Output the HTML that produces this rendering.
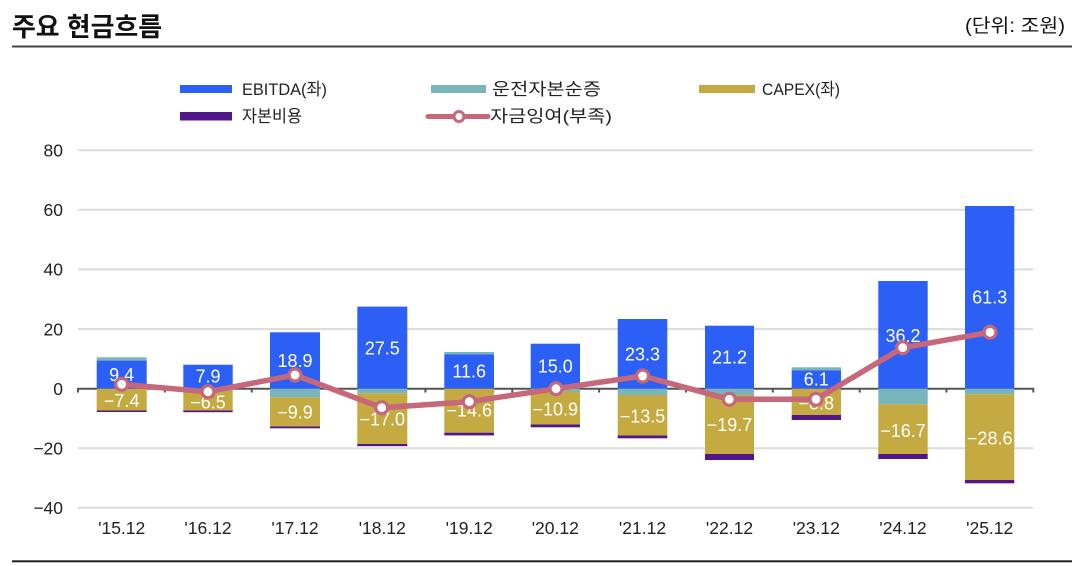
<!DOCTYPE html>
<html>
<head>
<meta charset="utf-8">
<style>
  html,body{margin:0;padding:0;background:#fff;}
  body{width:1078px;height:566px;overflow:hidden;}
  svg{display:block;}
  text{font-family:"Liberation Sans","Noto Sans CJK KR",sans-serif;}
  .k{font-family:"Liberation Sans","Noto Sans CJK KR",sans-serif;}
</style>
</head>
<body>
<svg width="1078" height="566" viewBox="0 0 1078 566" xmlns="http://www.w3.org/2000/svg">
  <!-- Title -->
  <text x="12" y="36" font-size="26" font-weight="bold" fill="#111" textLength="150" lengthAdjust="spacingAndGlyphs" class="k">주요 현금흐름</text>
  <text x="1065" y="32" font-size="19" fill="#111" text-anchor="end" textLength="100" lengthAdjust="spacingAndGlyphs" class="k">(단위: 조원)</text>
  <rect x="12" y="45.5" width="1060" height="2" fill="#444"/>

  <!-- Legend -->
  <rect x="180" y="85" width="52" height="8" fill="#2b5ff5"/>
  <text x="242" y="95" font-size="17" fill="#222" textLength="85" lengthAdjust="spacingAndGlyphs">EBITDA(좌)</text>
  <rect x="431" y="85" width="55" height="8" fill="#79b5ba"/>
  <text x="492" y="95" font-size="17" fill="#222" textLength="109" lengthAdjust="spacingAndGlyphs">운전자본순증</text>
  <rect x="699" y="85" width="56" height="8" fill="#c4aa41"/>
  <text x="762" y="95" font-size="17" fill="#222" textLength="78" lengthAdjust="spacingAndGlyphs">CAPEX(좌)</text>
  <rect x="180" y="112" width="52" height="8.5" fill="#52168a"/>
  <text x="242" y="122" font-size="17" fill="#222" textLength="60" lengthAdjust="spacingAndGlyphs">자본비용</text>
  <line x1="428" y1="116.5" x2="488" y2="116.5" stroke="#c6677a" stroke-width="5" stroke-linecap="round"/>
  <circle cx="459" cy="116.5" r="5" fill="#fff" stroke="#c6677a" stroke-width="3"/>
  <text x="490" y="122" font-size="17" fill="#222" textLength="122" lengthAdjust="spacingAndGlyphs">자금잉여(부족)</text>

  <!-- Gridlines -->
  <g stroke="#dcdcd8" stroke-width="2">
    <line x1="78" y1="150.2" x2="1033" y2="150.2"/>
    <line x1="78" y1="209.8" x2="1033" y2="209.8"/>
    <line x1="78" y1="269.4" x2="1033" y2="269.4"/>
    <line x1="78" y1="329.1" x2="1033" y2="329.1"/>
    <line x1="78" y1="448.2" x2="1033" y2="448.2"/>
    <line x1="78" y1="507.8" x2="1033" y2="507.8"/>
  </g>

  <!-- Y labels -->
  <g font-size="17.5" fill="#222" text-anchor="end">
    <text x="63" y="156.5">80</text>
    <text x="63" y="216">60</text>
    <text x="63" y="275.6">40</text>
    <text x="63" y="335.3">20</text>
    <text x="63" y="395">0</text>
    <text x="63" y="454.4">−20</text>
    <text x="63" y="514">−40</text>
  </g>

  <!-- Zero axis + ticks -->
  <g stroke="#555" stroke-width="2">
    <line x1="78" y1="388.7" x2="1034" y2="388.7"/>
    <line x1="78" y1="388" x2="78" y2="392.5"/>
    <line x1="164.9" y1="388" x2="164.9" y2="392.5"/>
    <line x1="251.7" y1="388" x2="251.7" y2="392.5"/>
    <line x1="338.6" y1="388" x2="338.6" y2="392.5"/>
    <line x1="425.4" y1="388" x2="425.4" y2="392.5"/>
    <line x1="512.3" y1="388" x2="512.3" y2="392.5"/>
    <line x1="599.1" y1="388" x2="599.1" y2="392.5"/>
    <line x1="686" y1="388" x2="686" y2="392.5"/>
    <line x1="772.8" y1="388" x2="772.8" y2="392.5"/>
    <line x1="859.7" y1="388" x2="859.7" y2="392.5"/>
    <line x1="946.5" y1="388" x2="946.5" y2="392.5"/>
    <line x1="1033.3" y1="388" x2="1033.3" y2="392.5"/>
  </g>

  <!-- Bars -->
  <g>
    <!-- 15.12 -->
    <rect x="96.7" y="357.3" width="50" height="3.3" fill="#79b5ba"/>
    <rect x="96.7" y="360.6" width="50" height="28.1" fill="#2b5ff5"/>
    <rect x="96.7" y="388.7" width="50" height="21.8" fill="#c4aa41"/>
    <rect x="96.7" y="410.5" width="50" height="1.5" fill="#52168a"/>
    <!-- 16.12 -->
    <rect x="183.3" y="364.7" width="49.4" height="24" fill="#2b5ff5"/>
    <rect x="183.3" y="388.7" width="49.4" height="1.8" fill="#79b5ba"/>
    <rect x="183.3" y="390.5" width="49.4" height="20" fill="#c4aa41"/>
    <rect x="183.3" y="410.5" width="49.4" height="1.7" fill="#52168a"/>
    <!-- 17.12 -->
    <rect x="270" y="332.3" width="50" height="56.4" fill="#2b5ff5"/>
    <rect x="270" y="388.7" width="50" height="8.6" fill="#79b5ba"/>
    <rect x="270" y="397.3" width="50" height="29.2" fill="#c4aa41"/>
    <rect x="270" y="426.5" width="50" height="1.8" fill="#52168a"/>
    <!-- 18.12 -->
    <rect x="357.3" y="306.6" width="50" height="82.1" fill="#2b5ff5"/>
    <rect x="357.3" y="388.7" width="50" height="4.6" fill="#79b5ba"/>
    <rect x="357.3" y="393.3" width="50" height="50.7" fill="#c4aa41"/>
    <rect x="357.3" y="444" width="50" height="2.2" fill="#52168a"/>
    <!-- 19.12 -->
    <rect x="444.3" y="352" width="49.7" height="2.3" fill="#79b5ba"/>
    <rect x="444.3" y="354.3" width="49.7" height="34.4" fill="#2b5ff5"/>
    <rect x="444.3" y="388.7" width="49.7" height="44" fill="#c4aa41"/>
    <rect x="444.3" y="432.7" width="49.7" height="2.7" fill="#52168a"/>
    <!-- 20.12 -->
    <rect x="530.7" y="343.7" width="49.3" height="45" fill="#2b5ff5"/>
    <rect x="530.7" y="388.7" width="49.3" height="2.8" fill="#79b5ba"/>
    <rect x="530.7" y="391.5" width="49.3" height="33" fill="#c4aa41"/>
    <rect x="530.7" y="424.5" width="49.3" height="2.8" fill="#52168a"/>
    <!-- 21.12 -->
    <rect x="617.7" y="319" width="49.6" height="69.7" fill="#2b5ff5"/>
    <rect x="617.7" y="388.7" width="49.6" height="6.3" fill="#79b5ba"/>
    <rect x="617.7" y="395" width="49.6" height="40.5" fill="#c4aa41"/>
    <rect x="617.7" y="435.5" width="49.6" height="2.8" fill="#52168a"/>
    <!-- 22.12 -->
    <rect x="705" y="325.7" width="49" height="63" fill="#2b5ff5"/>
    <rect x="705" y="388.7" width="49" height="6.3" fill="#79b5ba"/>
    <rect x="705" y="395" width="49" height="59" fill="#c4aa41"/>
    <rect x="705" y="454" width="49" height="6" fill="#52168a"/>
    <!-- 23.12 -->
    <rect x="791.7" y="367.3" width="49.3" height="3.2" fill="#79b5ba"/>
    <rect x="791.7" y="370.5" width="49.3" height="18.2" fill="#2b5ff5"/>
    <rect x="791.7" y="388.7" width="49.3" height="26.3" fill="#c4aa41"/>
    <rect x="791.7" y="415" width="49.3" height="5" fill="#52168a"/>
    <!-- 24.12 -->
    <rect x="878.3" y="281" width="49.4" height="107.7" fill="#2b5ff5"/>
    <rect x="878.3" y="388.7" width="49.4" height="15.6" fill="#79b5ba"/>
    <rect x="878.3" y="404.3" width="49.4" height="49.7" fill="#c4aa41"/>
    <rect x="878.3" y="454" width="49.4" height="5" fill="#52168a"/>
    <!-- 25.12 -->
    <rect x="965" y="206" width="49.3" height="182.7" fill="#2b5ff5"/>
    <rect x="965" y="388.7" width="49.3" height="5.6" fill="#79b5ba"/>
    <rect x="965" y="394.3" width="49.3" height="85.7" fill="#c4aa41"/>
    <rect x="965" y="480" width="49.3" height="3.3" fill="#52168a"/>
  </g>

  <!-- Data labels -->
  <g font-size="18" fill="#fff" text-anchor="middle" dominant-baseline="central">
    <text x="121.7" y="375">9.4</text>
    <text x="121.7" y="401">−7.4</text>
    <text x="208" y="376.7">7.9</text>
    <text x="208" y="402.7">−6.5</text>
    <text x="295" y="361">18.9</text>
    <text x="295" y="412.7">−9.9</text>
    <text x="382.3" y="348.7">27.5</text>
    <text x="382.3" y="419.3">−17.0</text>
    <text x="469.2" y="371.7">11.6</text>
    <text x="469.2" y="410.7">−14.6</text>
    <text x="555.3" y="366.3">15.0</text>
    <text x="555.3" y="409.3">−10.9</text>
    <text x="642.5" y="354.3">23.3</text>
    <text x="642.5" y="416.7">−13.5</text>
    <text x="729.5" y="357.3">21.2</text>
    <text x="729.5" y="425">−19.7</text>
    <text x="816.3" y="379.3">6.1</text>
    <text x="816.3" y="403.3">−8.8</text>
    <text x="903" y="336">36.2</text>
    <text x="903" y="431">−16.7</text>
    <text x="989.7" y="297.3">61.3</text>
    <text x="989.7" y="438.3">−28.6</text>
  </g>

  <!-- Line series -->
  <polyline fill="none" stroke="#c6677a" stroke-width="5.5" stroke-linejoin="round" stroke-linecap="round"
    points="121.7,384.3 208,391.7 295,375 381.7,407.7 469.3,401.7 556,388.7 642.7,376 729.3,399.3 816,399.3 902.7,347.7 990,332.3"/>
  <g fill="#fff" stroke="#c6677a" stroke-width="3.2">
    <circle cx="121.7" cy="384.3" r="6"/>
    <circle cx="208" cy="391.7" r="6"/>
    <circle cx="295" cy="375" r="6"/>
    <circle cx="381.7" cy="407.7" r="6"/>
    <circle cx="469.3" cy="401.7" r="6"/>
    <circle cx="556" cy="388.7" r="6"/>
    <circle cx="642.7" cy="376" r="6"/>
    <circle cx="729.3" cy="399.3" r="6"/>
    <circle cx="816" cy="399.3" r="6"/>
    <circle cx="902.7" cy="347.7" r="6"/>
    <circle cx="990" cy="332.3" r="6"/>
  </g>

  <!-- X labels -->
  <g font-size="17.5" fill="#222" text-anchor="middle">
    <text x="121.7" y="534">'15.12</text>
    <text x="208" y="534">'16.12</text>
    <text x="295" y="534">'17.12</text>
    <text x="382.3" y="534">'18.12</text>
    <text x="469.2" y="534">'19.12</text>
    <text x="555.3" y="534">'20.12</text>
    <text x="642.5" y="534">'21.12</text>
    <text x="729.5" y="534">'22.12</text>
    <text x="816.3" y="534">'23.12</text>
    <text x="903" y="534">'24.12</text>
    <text x="989.7" y="534">'25.12</text>
  </g>

  <!-- Bottom rule -->
  <rect x="12" y="560.3" width="1060" height="2" fill="#222"/>
</svg>
</body>
</html>
